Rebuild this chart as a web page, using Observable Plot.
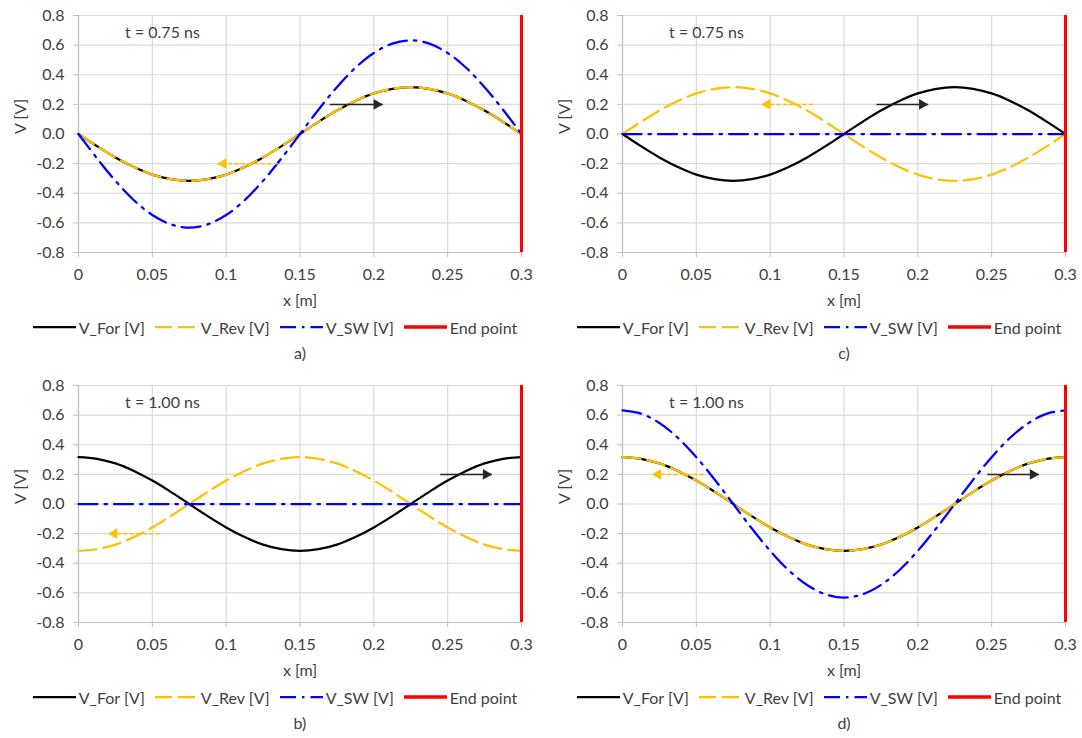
<!DOCTYPE html>
<html>
<head>
<meta charset="utf-8">
<script src="https://cdn.jsdelivr.net/npm/d3@7"></script>
<script src="https://cdn.jsdelivr.net/npm/@observablehq/plot@0.6"></script>
<style>
  body { margin: 0; background: #fff; font-family: Lato, "Open Sans", sans-serif; }
  #root { position: relative; width: 1082px; height: 738px; overflow: hidden; background: #fff; }
  .panel { position: absolute; width: 541px; height: 368px; }
  .panel svg { position: absolute; left: 0; top: 0; }
  .legend { position: absolute; left: 0; width: 550px; top: 317px; height: 20px; display: flex; justify-content: center; align-items: center; font-size: 16px; color: #404040; white-space: nowrap; }
  .item { display: flex; align-items: center; margin: 0 5px; }
  .item svg { position: static; margin-right: 3px; }
  .caption { position: absolute; top: 343px; left: 300px; transform: translateX(-50%); font-size: 16px; color: #404040; }
</style>
</head>
<body>
<div id="root"></div>
<script>
// ---- data ----
const xPos = [0, 0.0125, 0.025, 0.0375, 0.05, 0.0625, 0.075, 0.0875, 0.1, 0.1125, 0.125, 0.1375, 0.15,
              0.1625, 0.175, 0.1875, 0.2, 0.2125, 0.225, 0.2375, 0.25, 0.2625, 0.275, 0.2875, 0.3];

// a) t = 0.75 ns
const vForA = [0,-0.082,-0.158,-0.223,-0.274,-0.305,-0.316,-0.305,-0.274,-0.223,-0.158,-0.082,0,0.082,0.158,0.223,0.274,0.305,0.316,0.305,0.274,0.223,0.158,0.082,0];
const vRevA = [0,-0.082,-0.158,-0.223,-0.274,-0.305,-0.316,-0.305,-0.274,-0.223,-0.158,-0.082,0,0.082,0.158,0.223,0.274,0.305,0.316,0.305,0.274,0.223,0.158,0.082,0];
const vSwA  = [0,-0.164,-0.316,-0.447,-0.547,-0.610,-0.632,-0.610,-0.547,-0.447,-0.316,-0.164,0,0.164,0.316,0.447,0.547,0.610,0.632,0.610,0.547,0.447,0.316,0.164,0];

// c) t = 0.75 ns
const vForC = [0,-0.082,-0.158,-0.223,-0.274,-0.305,-0.316,-0.305,-0.274,-0.223,-0.158,-0.082,0,0.082,0.158,0.223,0.274,0.305,0.316,0.305,0.274,0.223,0.158,0.082,0];
const vRevC = [0,0.082,0.158,0.223,0.274,0.305,0.316,0.305,0.274,0.223,0.158,0.082,0,-0.082,-0.158,-0.223,-0.274,-0.305,-0.316,-0.305,-0.274,-0.223,-0.158,-0.082,0];
const vSwC  = [0,0,0,0,0,0,0,0,0,0,0,0,0,0,0,0,0,0,0,0,0,0,0,0,0];

// b) t = 1.00 ns
const vForB = [0.316,0.305,0.274,0.223,0.158,0.082,0,-0.082,-0.158,-0.223,-0.274,-0.305,-0.316,-0.305,-0.274,-0.223,-0.158,-0.082,0,0.082,0.158,0.223,0.274,0.305,0.316];
const vRevB = [-0.316,-0.305,-0.274,-0.223,-0.158,-0.082,0,0.082,0.158,0.223,0.274,0.305,0.316,0.305,0.274,0.223,0.158,0.082,0,-0.082,-0.158,-0.223,-0.274,-0.305,-0.316];
const vSwB  = [0,0,0,0,0,0,0,0,0,0,0,0,0,0,0,0,0,0,0,0,0,0,0,0,0];

// d) t = 1.00 ns
const vForD = [0.316,0.305,0.274,0.223,0.158,0.082,0,-0.082,-0.158,-0.223,-0.274,-0.305,-0.316,-0.305,-0.274,-0.223,-0.158,-0.082,0,0.082,0.158,0.223,0.274,0.305,0.316];
const vRevD = [0.316,0.305,0.274,0.223,0.158,0.082,0,-0.082,-0.158,-0.223,-0.274,-0.305,-0.316,-0.305,-0.274,-0.223,-0.158,-0.082,0,0.082,0.158,0.223,0.274,0.305,0.316];
const vSwD  = [0.632,0.610,0.547,0.447,0.316,0.164,0,-0.164,-0.316,-0.447,-0.547,-0.610,-0.632,-0.610,-0.547,-0.447,-0.316,-0.164,0,0.164,0.316,0.447,0.547,0.610,0.632];

const endPoint = [0.3];

// direction arrows (tail x1 -> tip x2 at height y)
const fwdArrowA = [{x1: 0.170, x2: 0.206, y: 0.2}];
const revArrowA = [{x1: 0.135, x2: 0.094, y: -0.2}];
const fwdArrowC = [{x1: 0.172, x2: 0.207, y: 0.2}];
const revArrowC = [{x1: 0.129, x2: 0.094, y: 0.2}];
const fwdArrowB = [{x1: 0.245, x2: 0.280, y: 0.2}];
const revArrowB = [{x1: 0.055, x2: 0.020, y: -0.2}];
const fwdArrowD = [{x1: 0.247, x2: 0.282, y: 0.2}];
const revArrowD = [{x1: 0.055, x2: 0.020, y: 0.2}];

const xTicks = [0, 0.05, 0.1, 0.15, 0.2, 0.25, 0.3];
const yTicks = [-0.8, -0.6, -0.4, -0.2, 0, 0.2, 0.4, 0.6, 0.8];
const seriesNames = ["V_For [V]", "V_Rev [V]", "V_SW [V]", "End point"];

const panels = [
  {id: "a", left: 0,   top: 0,   time: "t = 0.75 ns", vFor: vForA, vRev: vRevA, vSw: vSwA, fwd: fwdArrowA, rev: revArrowA},
  {id: "c", left: 544, top: 0,   time: "t = 0.75 ns", vFor: vForC, vRev: vRevC, vSw: vSwC, fwd: fwdArrowC, rev: revArrowC},
  {id: "b", left: 0,   top: 370, time: "t = 1.00 ns", vFor: vForB, vRev: vRevB, vSw: vSwB, fwd: fwdArrowB, rev: revArrowB},
  {id: "d", left: 544, top: 370, time: "t = 1.00 ns", vFor: vForD, vRev: vRevD, vSw: vSwD, fwd: fwdArrowD, rev: revArrowD}
];

// ---- styles ----
const C_FOR = "#000000", C_REV = "#FFC000", C_SW = "#0000FF", C_END = "#FF0000";
const TXT = "#404040", GRID = "#d9d9d9", AXIS = "#bfbfbf";
const DASH_REV = "18,7", DASH_SW = "19,7,2.5,7";
const FONT = "Lato, 'Open Sans', sans-serif";

const root = document.getElementById("root");

for (const p of panels) {
  const div = document.createElement("div");
  div.className = "panel";
  div.style.left = p.left + "px";
  div.style.top = p.top + "px";

  const chart = Plot.plot({
    width: 541,
    height: 312,
    marginLeft: 78,
    marginRight: 20,
    marginTop: 15,
    marginBottom: 60,
    style: {fontFamily: FONT, fontSize: "16px", color: TXT, background: "transparent"},
    x: {domain: [0, 0.3]},
    y: {domain: [-0.8, 0.8]},
    marks: [
      Plot.gridX(xTicks, {stroke: GRID, strokeOpacity: 1, strokeWidth: 1.2}),
      Plot.gridY(yTicks, {stroke: GRID, strokeOpacity: 1, strokeWidth: 1.2}),
      Plot.ruleY([-0.8], {stroke: AXIS, strokeWidth: 1.2}),
      Plot.ruleX([0], {stroke: AXIS, strokeWidth: 1.2}),
      Plot.axisX(xTicks, {tickSize: 5, tickPadding: 11, stroke: AXIS, fill: TXT, label: null, fontSize: 16,
        tickFormat: d => String(+d.toFixed(2))}),
      Plot.axisY(yTicks, {tickSize: 5, tickPadding: 9, stroke: AXIS, fill: TXT, label: null, fontSize: 16,
        tickFormat: d => d.toFixed(1)}),
      Plot.text(["x [m]"], {text: d => d, frameAnchor: "bottom", lineAnchor: "middle", dy: 48, fill: TXT, fontSize: 16}),
      Plot.text(["V [V]"], {text: d => d, frameAnchor: "left", dx: -58, rotate: -90, fill: TXT, fontSize: 16}),
      Plot.text([p.time], {text: d => d, frameAnchor: "top-left", textAnchor: "middle", lineAnchor: "middle", dx: 84, dy: 17, fill: TXT, fontSize: 16}),
      Plot.lineY(p.vFor, {x: xPos, stroke: C_FOR, strokeWidth: 2.25, curve: "catmull-rom"}),
      Plot.lineY(p.vRev, {x: xPos, stroke: C_REV, strokeWidth: 2.25, strokeDasharray: DASH_REV, curve: "catmull-rom"}),
      Plot.lineY(p.vSw, {x: xPos, stroke: C_SW, strokeWidth: 2.25, strokeDasharray: DASH_SW, curve: "catmull-rom"}),
      // direction arrows
      Plot.link(p.fwd, {x1: "x1", x2: "x2", y1: "y", y2: "y", stroke: "#262626", strokeWidth: 1.5}),
      Plot.dot(p.fwd, {x: "x2", y: "y", symbol: "triangle", r: 4, fill: "#262626", stroke: "none", rotate: 90, dx: -6}),
      Plot.link(p.rev, {x1: "x1", x2: "x2", y1: "y", y2: "y", stroke: C_REV, strokeWidth: 1.5, strokeDasharray: "4,2.5"}),
      Plot.dot(p.rev, {x: "x2", y: "y", symbol: "triangle", r: 4, fill: C_REV, stroke: "none", rotate: -90, dx: 6}),
      // end point
      Plot.ruleX(endPoint, {y1: -0.8, y2: 0.8, stroke: C_END, strokeWidth: 3})
    ]
  });
  div.appendChild(chart);

  // legend
  const legend = document.createElement("div");
  legend.className = "legend";
  const swatches = [
    {color: C_FOR, dash: null, w: 2.25},
    {color: C_REV, dash: "17,6", w: 2.25},
    {color: C_SW, dash: "16,6,2.5,6", w: 2.25},
    {color: C_END, dash: null, w: 3.5}
  ];
  seriesNames.forEach((name, i) => {
    const s = swatches[i];
    const item = document.createElement("div");
    item.className = "item";
    item.innerHTML = `<svg width="43" height="10"><line x1="0" y1="5" x2="43" y2="5" stroke="${s.color}" stroke-width="${s.w}" ${s.dash ? `stroke-dasharray="${s.dash}"` : ""}/></svg><span>${name}</span>`;
    legend.appendChild(item);
  });
  div.appendChild(legend);

  const cap = document.createElement("div");
  cap.className = "caption";
  cap.textContent = p.id + ")";
  div.appendChild(cap);

  root.appendChild(div);
}
</script>
</body>
</html>
